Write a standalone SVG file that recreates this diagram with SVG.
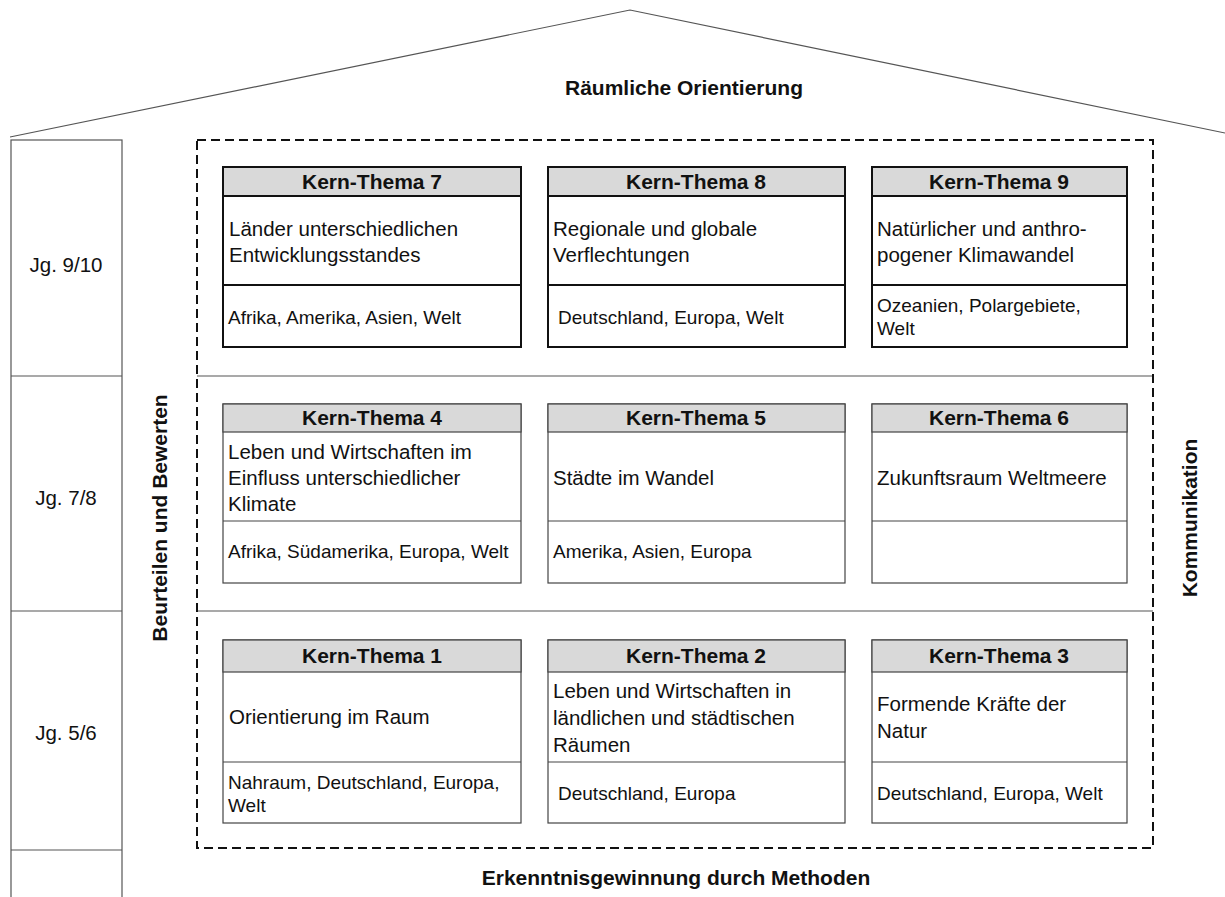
<svg xmlns="http://www.w3.org/2000/svg" width="1225" height="897" viewBox="0 0 1225 897">
<style>
.t{font-family:"Liberation Sans",Arial,sans-serif;fill:#111}
.h{font-size:21px;font-weight:bold;text-anchor:middle}
.m{font-size:20.5px}
.r{font-size:19px}
.lab{font-family:"Liberation Sans",Arial,sans-serif;font-size:21px;font-weight:bold;fill:#111;text-anchor:middle}
.jg{font-family:"Liberation Sans",Arial,sans-serif;font-size:20.5px;fill:#111;text-anchor:middle}
.c1 rect,.c1 line{stroke:#111;stroke-width:2}
.c2 rect,.c2 line{stroke:#444;stroke-width:1.2}
.hd{fill:#d9d9d9}
.bx{fill:#fff}
.thin{stroke:#555;stroke-width:1.2;fill:none}
</style>
<rect width="1225" height="897" fill="#fff"/>
<g id="roof">
<polyline points="10,137 630,10 1225,133" class="thin"/>
</g>
<g id="years">
<rect x="11" y="140" width="111" height="770" class="thin"/>
<line x1="11" y1="376" x2="122" y2="376" class="thin"/>
<line x1="11" y1="611" x2="122" y2="611" class="thin"/>
<line x1="11" y1="850" x2="122" y2="850" class="thin"/>
<text class="jg" x="66" y="272">Jg. 9/10</text>
<text class="jg" x="66" y="505">Jg. 7/8</text>
<text class="jg" x="66" y="740">Jg. 5/6</text>
</g>
<g id="frame">
<line x1="197" y1="376" x2="1153" y2="376" class="thin"/>
<line x1="197" y1="611" x2="1153" y2="611" class="thin"/>
<rect x="197" y="140" width="956" height="708" fill="none" stroke="#111" stroke-width="2" stroke-dasharray="9,5"/>
</g>
<g id="labels">
<text class="lab" x="684" y="95">Räumliche Orientierung</text>
<text class="lab" x="676" y="885">Erkenntnisgewinnung durch Methoden</text>
<text class="lab" transform="translate(167,518) rotate(-90)">Beurteilen und Bewerten</text>
<text class="lab" transform="translate(1197,518) rotate(-90)">Kommunikation</text>
</g>
<g id="kt7" class="c1">
<rect x="223" y="167" width="298" height="180" class="bx"/>
<rect x="223" y="167" width="298" height="29" class="hd"/>
<line x1="223" y1="285" x2="521" y2="285"/>
<text class="t h" x="372" y="189">Kern-Thema 7</text>
<text class="t m" x="229" y="236">Länder unterschiedlichen</text>
<text class="t m" x="229" y="262">Entwicklungsstandes</text>
<text class="t r" x="228" y="324">Afrika, Amerika, Asien, Welt</text>
</g>
<g id="kt8" class="c1">
<rect x="548" y="167" width="297" height="180" class="bx"/>
<rect x="548" y="167" width="297" height="29" class="hd"/>
<line x1="548" y1="285" x2="845" y2="285"/>
<text class="t h" x="696" y="189">Kern-Thema 8</text>
<text class="t m" x="553" y="236">Regionale und globale</text>
<text class="t m" x="553" y="262">Verflechtungen</text>
<text class="t r" x="558" y="324">Deutschland, Europa, Welt</text>
</g>
<g id="kt9" class="c1">
<rect x="872" y="167" width="255" height="180" class="bx"/>
<rect x="872" y="167" width="255" height="29" class="hd"/>
<line x1="872" y1="285" x2="1127" y2="285"/>
<text class="t h" x="999" y="189">Kern-Thema 9</text>
<text class="t m" x="877" y="236">Natürlicher und anthro-</text>
<text class="t m" x="877" y="262">pogener Klimawandel</text>
<text class="t r" x="877" y="312">Ozeanien, Polargebiete,</text>
<text class="t r" x="877" y="335">Welt</text>
</g>
<g id="kt4" class="c2">
<rect x="223" y="404" width="298" height="179" class="bx"/>
<rect x="223" y="404" width="298" height="28" class="hd"/>
<line x1="223" y1="521" x2="521" y2="521"/>
<text class="t h" x="372" y="425">Kern-Thema 4</text>
<text class="t m" x="228" y="459">Leben und Wirtschaften im</text>
<text class="t m" x="228" y="485">Einfluss unterschiedlicher</text>
<text class="t m" x="228" y="511">Klimate</text>
<text class="t r" x="228" y="558">Afrika, Südamerika, Europa, Welt</text>
</g>
<g id="kt5" class="c2">
<rect x="548" y="404" width="297" height="179" class="bx"/>
<rect x="548" y="404" width="297" height="28" class="hd"/>
<line x1="548" y1="521" x2="845" y2="521"/>
<text class="t h" x="696" y="425">Kern-Thema 5</text>
<text class="t m" x="553" y="485">Städte im Wandel</text>
<text class="t r" x="553" y="558">Amerika, Asien, Europa</text>
</g>
<g id="kt6" class="c2">
<rect x="872" y="404" width="255" height="179" class="bx"/>
<rect x="872" y="404" width="255" height="28" class="hd"/>
<line x1="872" y1="521" x2="1127" y2="521"/>
<text class="t h" x="999" y="425">Kern-Thema 6</text>
<text class="t m" x="877" y="485">Zukunftsraum Weltmeere</text>
</g>
<g id="kt1" class="c2">
<rect x="223" y="640" width="298" height="183" class="bx"/>
<rect x="223" y="640" width="298" height="32" class="hd"/>
<line x1="223" y1="762" x2="521" y2="762"/>
<text class="t h" x="372" y="663">Kern-Thema 1</text>
<text class="t m" x="229" y="724">Orientierung im Raum</text>
<text class="t r" x="228" y="789">Nahraum, Deutschland, Europa,</text>
<text class="t r" x="228" y="812">Welt</text>
</g>
<g id="kt2" class="c2">
<rect x="548" y="640" width="297" height="183" class="bx"/>
<rect x="548" y="640" width="297" height="32" class="hd"/>
<line x1="548" y1="762" x2="845" y2="762"/>
<text class="t h" x="696" y="663">Kern-Thema 2</text>
<text class="t m" x="553" y="698">Leben und Wirtschaften in</text>
<text class="t m" x="553" y="725">ländlichen und städtischen</text>
<text class="t m" x="553" y="752">Räumen</text>
<text class="t r" x="558" y="800">Deutschland, Europa</text>
</g>
<g id="kt3" class="c2">
<rect x="872" y="640" width="255" height="183" class="bx"/>
<rect x="872" y="640" width="255" height="32" class="hd"/>
<line x1="872" y1="762" x2="1127" y2="762"/>
<text class="t h" x="999" y="663">Kern-Thema 3</text>
<text class="t m" x="877" y="711">Formende Kräfte der</text>
<text class="t m" x="877" y="738">Natur</text>
<text class="t r" x="877" y="800">Deutschland, Europa, Welt</text>
</g>
<g id="connectors"></g>
</svg>
